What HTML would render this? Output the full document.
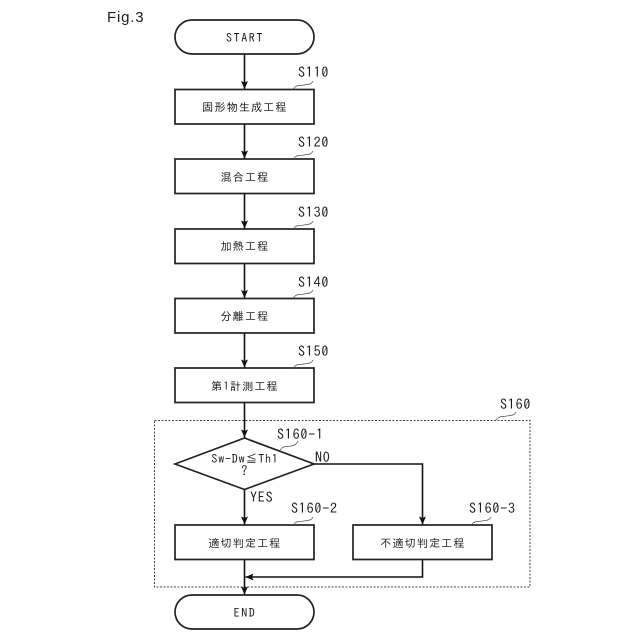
<!DOCTYPE html>
<html><head><meta charset="utf-8"><style>
html,body{margin:0;padding:0;background:#fff}
svg{display:block}
text{font-family:"IPAGothic","Noto Sans CJK JP",sans-serif;fill:#1c1c1c}
.c{font-size:11px;text-anchor:middle;letter-spacing:1.2px}
.e{font-size:12px;text-anchor:middle;letter-spacing:1.600px}
.l{font-size:14px;letter-spacing:.8px}
</style></head><body>
<svg width="640" height="640" viewBox="0 0 640 640" xmlns="http://www.w3.org/2000/svg">
<defs><marker id="a" markerUnits="userSpaceOnUse" markerWidth="9" markerHeight="9" refX="8" refY="4" orient="auto"><path d="M0 .5L8 4L0 7.500L1.500 4Z" fill="#111"/></marker></defs>
<g fill="#fff" stroke="#222" stroke-width="1.700">
<rect x="175" y="20" width="139" height="34" rx="17"/>
<rect x="175" y="89.500" width="139" height="34.500"/>
<rect x="175" y="159" width="139" height="34.500"/>
<rect x="175" y="229" width="139" height="34.500"/>
<rect x="175" y="298.500" width="139" height="34.500"/>
<rect x="175" y="368" width="139" height="34.500"/>
<rect x="154.500" y="420.500" width="375.500" height="166.500" fill="none" stroke="#444" stroke-width="1" stroke-dasharray="2 1.500"/>
<path d="M175 464L244.500 438L314 464L244.500 489.500Z"/>
<rect x="175" y="525" width="139" height="34.500"/>
<rect x="353" y="525" width="139" height="34.500"/>
<rect x="175" y="595" width="139" height="34" rx="17"/>
</g>
<g fill="none" stroke="#111" stroke-width="1.600">
<path d="M244.500 54V89" marker-end="url(#a)"/>
<path d="M244.500 124V158.500" marker-end="url(#a)"/>
<path d="M244.500 193.500V228.500" marker-end="url(#a)"/>
<path d="M244.500 263.500V298" marker-end="url(#a)"/>
<path d="M244.500 333V367.500" marker-end="url(#a)"/>
<path d="M244.500 402.500V437.500" marker-end="url(#a)"/>
<path d="M244.500 489.500V524.500" marker-end="url(#a)"/>
<path d="M314 464H422.500V524.500" marker-end="url(#a)"/>
<path d="M422.500 559.500V577H245.500" marker-end="url(#a)"/>
<path d="M244.500 559.500V594.500" marker-end="url(#a)"/>
</g>
<g fill="none" stroke="#555" stroke-width="0.800">
<path d="M293 89C297 84 300 86 304 85C308 84 311 85 313 81"/>
<path d="M293 159C297 154 300 156 304 155C308 154 311 155 313 151"/>
<path d="M293 229C297 224 300 226 304 225C308 224 311 225 313 221"/>
<path d="M293 298C297 293 300 295 304 294C308 293 311 294 313 290"/>
<path d="M293 368C297 363 300 365 304 364C308 363 311 364 313 360"/>
<path d="M496 420C500 415 503 417 507 416C511 415 514 416 516 412"/>
<path d="M280 450C284 445 287 447 291 446C295 445 296 445 298 441"/>
<path d="M293 525C297 520 300 522 304 521C308 520 311 521 313 517"/>
<path d="M471 525C475 520 478 522 482 521C486 520 489 521 491 517"/>
</g>
<text x="107" y="22" style="font-family:'Liberation Sans',sans-serif;font-size:15px;letter-spacing:.8px">Fig.3</text>
<text class="e" x="245" y="42">START</text>
<text class="c" x="245" y="111">固形物生成工程</text>
<text class="c" x="245" y="181">混合工程</text>
<text class="c" x="245" y="250">加熱工程</text>
<text class="c" x="245" y="320">分離工程</text>
<text class="c" x="245" y="390">第1計測工程</text>
<text class="e" x="245" y="463" style="letter-spacing:.8px">Sw-Dw≦Th1</text>
<text class="e" x="245" y="475">?</text>
<text class="c" x="245" y="547">適切判定工程</text>
<text class="c" x="423" y="547">不適切判定工程</text>
<text class="e" x="245" y="617">END</text>
<text class="l" x="298" y="77">S110</text>
<text class="l" x="298" y="147">S120</text>
<text class="l" x="298" y="217">S130</text>
<text class="l" x="298" y="287">S140</text>
<text class="l" x="298" y="356">S150</text>
<text class="l" x="500" y="409">S160</text>
<text class="l" x="277" y="439">S160-1</text>
<text class="l" x="291" y="513">S160-2</text>
<text class="l" x="469" y="513">S160-3</text>
<text class="l" x="315" y="462">NO</text>
<text class="l" x="250" y="502">YES</text>
</svg>
</body></html>
